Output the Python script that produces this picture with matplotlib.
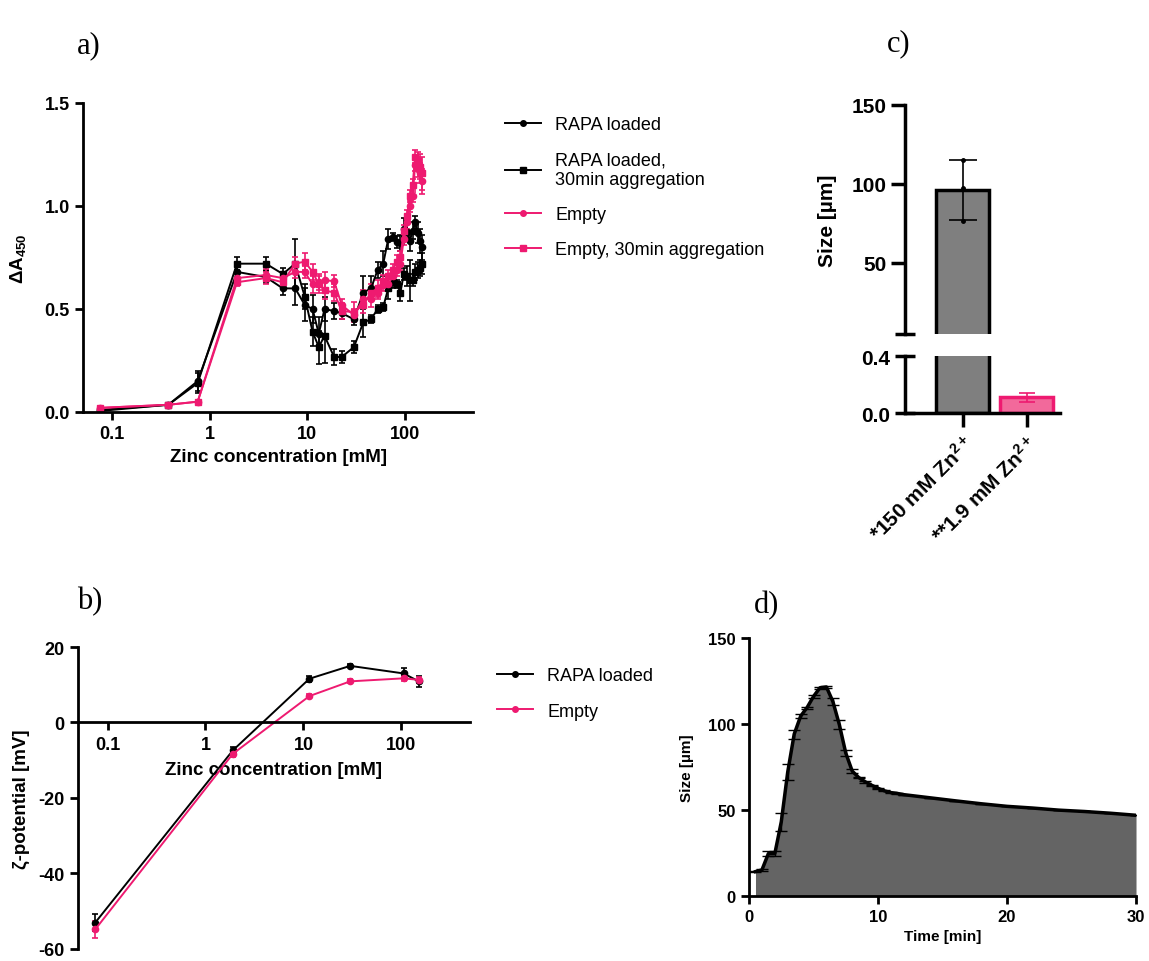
import numpy as np
import matplotlib.pyplot as plt
from matplotlib.lines import Line2D

plt.rcParams['font.family'] = ['Liberation Sans', 'DejaVu Sans']
plt.rcParams['mathtext.fontset'] = 'custom'
plt.rcParams['mathtext.rm'] = 'Liberation Sans:bold'
plt.rcParams['mathtext.default'] = 'rm'
plt.rcParams['axes.unicode_minus'] = False

BLACK = '#000000'
PINK = '#ee1a70'

# ---- panel a: absorbance vs zinc concentration ----
conc_a = [0.075, 0.375, 0.75, 1.9, 3.75, 5.6, 7.5, 9.4, 11.3, 13.1, 15, 18.8, 22.5, 30,
          37.5, 45, 52.5, 60, 67.5, 75, 82.5, 90, 97.5, 105, 112.5, 120, 127.5, 135, 142.5, 150]
rapa = [0.01, 0.035, 0.15, 0.68, 0.655, 0.60, 0.60, 0.52, 0.50, 0.38, 0.50, 0.49, 0.48, 0.45,
        0.58, 0.60, 0.69, 0.72, 0.84, 0.85, 0.825, 0.82, 0.89, 0.875, 0.83, 0.88, 0.92, 0.87, 0.83, 0.80]
rapa_err = [0.01, 0.01, 0.05, 0.03, 0.03, 0.03, 0.08, 0.08, 0.07, 0.08, 0.06, 0.04, 0.03, 0.03,
            0.08, 0.06, 0.04, 0.06, 0.05, 0.02, 0.03, 0.04, 0.05, 0.04, 0.05, 0.04, 0.03, 0.05, 0.06, 0.06]
rapa_30 = [0.005, 0.035, 0.14, 0.72, 0.72, 0.67, 0.72, 0.56, 0.39, 0.315, 0.37, 0.267, 0.267, 0.315,
           0.435, 0.45, 0.50, 0.51, 0.60, 0.63, 0.62, 0.58, 0.67, 0.66, 0.64, 0.64, 0.68, 0.69, 0.70, 0.72]
rapa_30_err = [0.01, 0.01, 0.05, 0.03, 0.03, 0.03, 0.12, 0.06, 0.07, 0.08, 0.13, 0.04, 0.03, 0.03,
               0.07, 0.02, 0.02, 0.02, 0.05, 0.03, 0.02, 0.04, 0.03, 0.05, 0.10, 0.03, 0.04, 0.04, 0.04, 0.05]
empty = [0.02, 0.035, 0.05, 0.65, 0.665, 0.65, 0.68, 0.68, 0.62, 0.63, 0.64, 0.635, 0.52, 0.47,
         0.55, 0.55, 0.58, 0.615, 0.62, 0.66, 0.69, 0.72, 0.84, 0.92, 1.00, 1.05, 1.20, 1.18, 1.16, 1.12]
empty_err = [0.01, 0.01, 0.01, 0.02, 0.03, 0.03, 0.03, 0.03, 0.04, 0.04, 0.04, 0.03, 0.03, 0.03,
             0.04, 0.04, 0.03, 0.03, 0.03, 0.03, 0.03, 0.03, 0.03, 0.03, 0.03, 0.03, 0.03, 0.04, 0.05, 0.06]
empty_30 = [0.02, 0.035, 0.05, 0.63, 0.65, 0.63, 0.72, 0.73, 0.68, 0.62, 0.59, 0.58, 0.49, 0.485,
            0.52, 0.58, 0.60, 0.635, 0.66, 0.69, 0.73, 0.75, 0.88, 0.95, 1.05, 1.10, 1.24, 1.22, 1.19, 1.16]
empty_30_err = [0.01, 0.01, 0.01, 0.02, 0.03, 0.03, 0.03, 0.04, 0.04, 0.04, 0.04, 0.04, 0.04, 0.05,
                0.04, 0.04, 0.04, 0.03, 0.03, 0.03, 0.03, 0.03, 0.03, 0.03, 0.03, 0.03, 0.03, 0.04, 0.06, 0.08]
labels_a = ['RAPA loaded', 'RAPA loaded,\n30min aggregation', 'Empty', 'Empty, 30min aggregation']

# ---- panel b: zeta potential ----
conc_b = [0.075, 1.9, 11.5, 30, 105, 150]
zeta_rapa = [-53.0, -7.4, 11.6, 15.0, 13.0, 10.9]
zeta_rapa_err = [2.3, 0.8, 0.8, 0.4, 1.5, 1.5]
zeta_empty = [-54.8, -8.3, 7.0, 10.9, 11.7, 11.3]
zeta_empty_err = [2.3, 0.8, 0.5, 0.5, 0.7, 0.8]
labels_b = ['RAPA loaded', 'Empty']

# ---- panel c: aggregate size ----
bar_labels = ['*150 mM Zn$^{2+}$', '**1.9 mM Zn$^{2+}$']
bar_means = [96.0, 0.11]
bar_errs = [19.0, 0.03]
bar1_points = [115.0, 97.5, 76.5]

# ---- panel d: size over time ----
t_min = [0.5, 1.0, 1.5, 2.0, 2.5, 3.0, 3.5, 4.0, 4.5, 5.0, 5.5, 6.0, 6.5, 7.0, 7.5, 8.0, 8.5,
         9.0, 9.5, 10.0, 10.5, 11.0, 11.5, 12, 14, 16, 18, 20, 22, 24, 26, 28, 30]
size_t = [14, 15, 24.5, 24.5, 43, 72, 94, 104.5, 109.5, 116, 121, 121.5, 113, 99.6, 83, 72.5, 68.8,
          66.3, 64.3, 62.5, 61, 60, 59.5, 58.8, 57, 55.2, 53.5, 52, 51, 49.8, 49, 48, 46.8]
size_t_err = [0.5, 0.8, 1.5, 1.5, 5.4, 4.8, 2.7, 1.0, 0.6, 1.0, 0.5, 0.5, 2.1, 2.7, 1.5, 1.3, 0.5,
              0.5, 0.4, 0.4, 0.3, 0.3, 0.3, 0.0, 0.0, 0.0, 0.0, 0.0, 0.0, 0.0, 0.0, 0.0, 0.0]

fig = plt.figure(figsize=(11.49, 9.62), dpi=100)


def style_axes(ax, lw=2.0, fs=13, tick_len=6):
    for s in ['top', 'right']:
        ax.spines[s].set_visible(False)
    for s in ['left', 'bottom']:
        ax.spines[s].set_linewidth(lw)
    ax.tick_params(width=lw, length=tick_len, labelsize=fs)
    for lab in ax.get_xticklabels() + ax.get_yticklabels():
        lab.set_fontweight('bold')


def log_ticks(ax):
    ax.set_xscale('log')
    ax.set_xticks([0.1, 1, 10, 100])
    ax.set_xticklabels(['0.1', '1', '10', '100'])
    ax.xaxis.set_minor_locator(plt.NullLocator())


def legend_handle(color, marker):
    return Line2D([], [], color=color, marker=marker, lw=1.4, ms=4 if marker == 'o' else 4.5)


# panel a
ax_a = fig.add_axes([0.0722, 0.5707, 0.3395, 0.3212])
ekw = dict(lw=1.4, elinewidth=1.2, capsize=2.5, capthick=1.2)
ax_a.errorbar(conc_a, rapa, yerr=rapa_err, fmt='-o', color=BLACK, ms=4.5, **ekw)
ax_a.errorbar(conc_a, rapa_30, yerr=rapa_30_err, fmt='-s', color=BLACK, ms=5, **ekw)
ax_a.errorbar(conc_a, empty, yerr=empty_err, fmt='-o', color=PINK, ms=4.5, **ekw)
ax_a.errorbar(conc_a, empty_30, yerr=empty_30_err, fmt='-s', color=PINK, ms=5, **ekw)
log_ticks(ax_a)
ax_a.set_xlim(0.05, 500)
ax_a.set_ylim(0, 1.5)
ax_a.set_yticks([0, 0.5, 1.0, 1.5])
ax_a.set_yticklabels(['0.0', '0.5', '1.0', '1.5'])
style_axes(ax_a)
ax_a.set_xlabel('Zinc concentration [mM]', fontsize=13.5, fontweight='bold')
ax_a.set_ylabel('ΔA$_{450}$', fontsize=13.5, fontweight='bold', labelpad=12)
handles_a = [legend_handle(BLACK, 'o'), legend_handle(BLACK, 's'),
             legend_handle(PINK, 'o'), legend_handle(PINK, 's')]
ax_a.legend(handles_a, labels_a, loc='upper left', bbox_to_anchor=(0.425, 0.895),
            bbox_transform=fig.transFigure, frameon=False, fontsize=13, handlelength=2.0,
            labelspacing=1.0)

# panel b
ax_b = fig.add_axes([0.0679, 0.0125, 0.3411, 0.3139])
ax_b.errorbar(conc_b, zeta_rapa, yerr=zeta_rapa_err, fmt='-o', color=BLACK, ms=4.5, **ekw)
ax_b.errorbar(conc_b, zeta_empty, yerr=zeta_empty_err, fmt='-o', color=PINK, ms=4.5, **ekw)
log_ticks(ax_b)
ax_b.set_xlim(0.05, 500)
ax_b.set_ylim(-60, 20)
ax_b.set_yticks([-60, -40, -20, 0, 20])
ax_b.spines['bottom'].set_position(('data', 0))
style_axes(ax_b)
ax_b.set_xlabel('Zinc concentration [mM]', fontsize=13.5, fontweight='bold', labelpad=6)
ax_b.set_ylabel('ζ-potential [mV]', fontsize=13.5, fontweight='bold', labelpad=6)
handles_b = [legend_handle(BLACK, 'o'), legend_handle(PINK, 'o')]
ax_b.legend(handles_b, labels_b, loc='upper left', bbox_to_anchor=(0.418, 0.322),
            bbox_transform=fig.transFigure, frameon=False, fontsize=13, handlelength=2.0,
            labelspacing=1.0)

# panel c (broken y axis)
xpos = np.arange(len(bar_labels))
bar_fc = ['#7f7f7f', '#f2699b']
bar_ec = [BLACK, PINK]
ax_c1 = fig.add_axes([0.7876, 0.6518, 0.135, 0.2383])
ax_c2 = fig.add_axes([0.7876, 0.5696, 0.135, 0.0589])
for ax in (ax_c1, ax_c2):
    ax.bar(xpos, bar_means, width=0.82, color=bar_fc, edgecolor=bar_ec, linewidth=2.5, zorder=2)
    ax.set_xlim(-0.9, 1.52)
ax_c1.errorbar(xpos[0], bar_means[0], yerr=bar_errs[0], color=BLACK, lw=1.2, capsize=10,
               capthick=1.2, zorder=3)
ax_c1.plot([xpos[0]] * len(bar1_points), bar1_points, 'o', color=BLACK, ms=2.5, zorder=4)
ax_c2.errorbar(xpos[1], bar_means[1], yerr=bar_errs[1], color=PINK, lw=1.2, capsize=6,
               capthick=1.2, zorder=3)
ax_c1.set_ylim(5, 150)
ax_c1.set_yticks([50, 100, 150])
ax_c1.set_xticks([])
ax_c1.spines['bottom'].set_visible(False)
ax_c2.set_ylim(0, 0.4)
ax_c2.set_yticks([0.0, 0.4])
ax_c2.set_yticklabels(['0.0', '0.4'])
ax_c2.set_xticks(xpos)
ax_c2.set_xticklabels(bar_labels, rotation=45, ha='right', rotation_mode='anchor')
style_axes(ax_c1, lw=2.5, fs=15, tick_len=10)
style_axes(ax_c2, lw=2.5, fs=15, tick_len=10)
ax_c2.tick_params(axis='y', direction='inout', length=14)
ax_c1.set_yticks([5], minor=True)
ax_c1.tick_params(axis='y', which='minor', direction='inout', length=14, width=2.5)
ax_c1.set_ylabel('Size [µm]', fontsize=15, fontweight='bold', labelpad=10)

# panel d
ax_d = fig.add_axes([0.6519, 0.0679, 0.3368, 0.2679])
ax_d.fill_between(t_min, size_t, 0, color='#646464', lw=0, zorder=1)
ax_d.plot(t_min, size_t, color=BLACK, lw=2.5, zorder=3)
ax_d.errorbar(t_min, size_t, yerr=size_t_err, fmt='none', ecolor=BLACK, elinewidth=1.0,
              capsize=4, capthick=1.0, zorder=2)
ax_d.set_xlim(0, 30)
ax_d.set_ylim(0, 150)
ax_d.set_xticks([0, 10, 20, 30])
ax_d.set_yticks([0, 50, 100, 150])
style_axes(ax_d, lw=2.0, fs=12, tick_len=6)
ax_d.set_xlabel('Time [min]', fontsize=11, fontweight='bold')
ax_d.set_ylabel('Size [µm]', fontsize=11, fontweight='bold', labelpad=10)

# panel letters
for txt, x, y in [('a)', 0.067, 0.952), ('b)', 0.067, 0.375), ('c)', 0.772, 0.955), ('d)', 0.656, 0.37)]:
    fig.text(x, y, txt, fontsize=22, family='Liberation Serif', va='center')

fig.savefig('out.png', dpi=100)
